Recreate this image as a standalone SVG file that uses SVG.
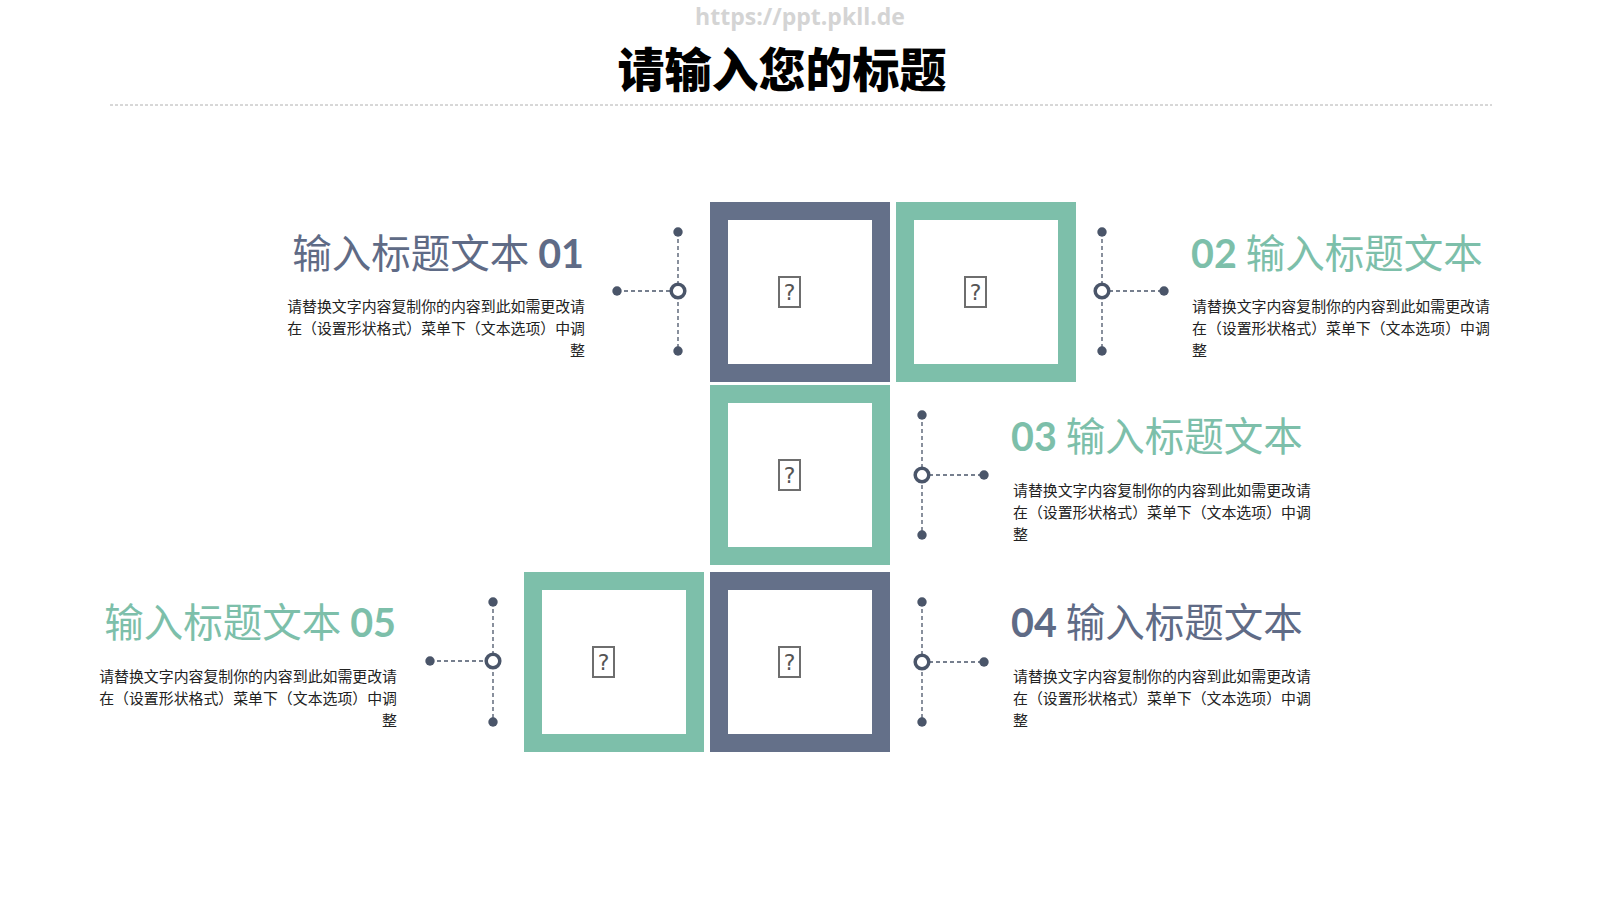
<svg xmlns="http://www.w3.org/2000/svg" width="1600" height="900" viewBox="0 0 1600 900">
<defs>
<style>
.bg{fill:#ffffff}
.sq-blue{fill:none;stroke:#647089;stroke-width:18}
.sq-green{fill:none;stroke:#7dbfaa;stroke-width:18}
.icon{fill:#ffffff;stroke:#6e6e6e;stroke-width:2}
.qm{font-family:"DejaVu Sans","Liberation Sans",sans-serif;font-size:22px;fill:#555;text-anchor:middle}
.dash{stroke:#4a5569;stroke-width:1.3;stroke-dasharray:4 3;fill:none}
.dot{fill:#4a5569}
.ring{fill:#ffffff;stroke:#4a5569;stroke-width:3.5}
.tt{font-family:"Noto Sans CJK SC","Noto Sans",sans-serif;font-size:39.5px;font-weight:400}
.num{font-family:Lato,"Open Sans","Liberation Sans",sans-serif;font-weight:700}
.blue{fill:#5f6b86}
.green{fill:#7dbfaa}
.body{font-family:"Noto Sans CJK SC","Noto Sans",sans-serif;font-size:14.9px;fill:#222}
.end{text-anchor:end}
</style>
</defs>
<rect class="bg" x="0" y="0" width="1600" height="900"/>
<g id="header">
<text x="800" y="25" font-family="'Open Sans','DejaVu Sans',sans-serif" font-size="23" font-weight="700" fill="#d4d4d4" text-anchor="middle">https://ppt.pkll.de</text>
<text x="782" y="87" font-family="'Noto Sans CJK SC',sans-serif" font-size="47" font-weight="900" fill="#000" text-anchor="middle">请输入您的标题</text>
<line x1="110" y1="105" x2="1492" y2="105" stroke="#b0b0b0" stroke-width="1" stroke-dasharray="3 2"/>
</g>
<g id="squares">
<g id="sq1"><rect class="sq-blue" x="719" y="211" width="162" height="162"/><rect class="icon" x="779" y="277" width="21" height="30"/><text class="qm" x="789.5" y="300">?</text></g>
<g id="sq2"><rect class="sq-green" x="905" y="211" width="162" height="162"/><rect class="icon" x="965" y="277" width="21" height="30"/><text class="qm" x="975.5" y="300">?</text></g>
<g id="sq3"><rect class="sq-green" x="719" y="394" width="162" height="162"/><rect class="icon" x="779" y="460" width="21" height="30"/><text class="qm" x="789.5" y="483">?</text></g>
<g id="sq4"><rect class="sq-blue" x="719" y="581" width="162" height="162"/><rect class="icon" x="779" y="647" width="21" height="30"/><text class="qm" x="789.5" y="670">?</text></g>
<g id="sq5"><rect class="sq-green" x="533" y="581" width="162" height="162"/><rect class="icon" x="593" y="647" width="21" height="30"/><text class="qm" x="603.5" y="670">?</text></g>
</g>
<g id="connectors">
<line class="dash" x1="678" y1="232" x2="678" y2="351"/><line class="dash" x1="617" y1="291" x2="678" y2="291"/>
<circle class="dot" cx="678" cy="232" r="4.7"/><circle class="dot" cx="678" cy="351" r="4.7"/><circle class="dot" cx="617" cy="291" r="4.7"/><circle class="ring" cx="678" cy="291" r="6.8"/>
<line class="dash" x1="1102" y1="232" x2="1102" y2="351"/><line class="dash" x1="1102" y1="291" x2="1164" y2="291"/>
<circle class="dot" cx="1102" cy="232" r="4.7"/><circle class="dot" cx="1102" cy="351" r="4.7"/><circle class="dot" cx="1164" cy="291" r="4.7"/><circle class="ring" cx="1102" cy="291" r="6.8"/>
<line class="dash" x1="922" y1="415" x2="922" y2="535"/><line class="dash" x1="922" y1="475" x2="984" y2="475"/>
<circle class="dot" cx="922" cy="415" r="4.7"/><circle class="dot" cx="922" cy="535" r="4.7"/><circle class="dot" cx="984" cy="475" r="4.7"/><circle class="ring" cx="922" cy="475" r="6.8"/>
<line class="dash" x1="922" y1="602" x2="922" y2="722"/><line class="dash" x1="922" y1="662" x2="984" y2="662"/>
<circle class="dot" cx="922" cy="602" r="4.7"/><circle class="dot" cx="922" cy="722" r="4.7"/><circle class="dot" cx="984" cy="662" r="4.7"/><circle class="ring" cx="922" cy="662" r="6.8"/>
<line class="dash" x1="493" y1="602" x2="493" y2="722"/><line class="dash" x1="430" y1="661" x2="493" y2="661"/>
<circle class="dot" cx="493" cy="602" r="4.7"/><circle class="dot" cx="493" cy="722" r="4.7"/><circle class="dot" cx="430" cy="661" r="4.7"/><circle class="ring" cx="493" cy="661" r="6.8"/>
</g>
<g id="item1">
<text class="tt blue end" x="584" y="268">输入标题文本 <tspan class="num">01</tspan></text>
<text class="body end" x="585" y="312">请替换文字内容复制你的内容到此如需更改请</text>
<text class="body end" x="585" y="334">在（设置形状格式）菜单下（文本选项）中调</text>
<text class="body end" x="585" y="356">整</text>
</g>
<g id="item2">
<text class="tt green" x="1191" y="268"><tspan class="num">02</tspan> 输入标题文本</text>
<text class="body" x="1192" y="312">请替换文字内容复制你的内容到此如需更改请</text>
<text class="body" x="1192" y="334">在（设置形状格式）菜单下（文本选项）中调</text>
<text class="body" x="1192" y="356">整</text>
</g>
<g id="item3">
<text class="tt green" x="1011" y="451"><tspan class="num">03</tspan> 输入标题文本</text>
<text class="body" x="1013" y="496">请替换文字内容复制你的内容到此如需更改请</text>
<text class="body" x="1013" y="518">在（设置形状格式）菜单下（文本选项）中调</text>
<text class="body" x="1013" y="540">整</text>
</g>
<g id="item4">
<text class="tt blue" x="1011" y="637"><tspan class="num">04</tspan> 输入标题文本</text>
<text class="body" x="1013" y="682">请替换文字内容复制你的内容到此如需更改请</text>
<text class="body" x="1013" y="704">在（设置形状格式）菜单下（文本选项）中调</text>
<text class="body" x="1013" y="726">整</text>
</g>
<g id="item5">
<text class="tt green end" x="396" y="637">输入标题文本 <tspan class="num">05</tspan></text>
<text class="body end" x="397" y="682">请替换文字内容复制你的内容到此如需更改请</text>
<text class="body end" x="397" y="704">在（设置形状格式）菜单下（文本选项）中调</text>
<text class="body end" x="397" y="726">整</text>
</g>
</svg>
